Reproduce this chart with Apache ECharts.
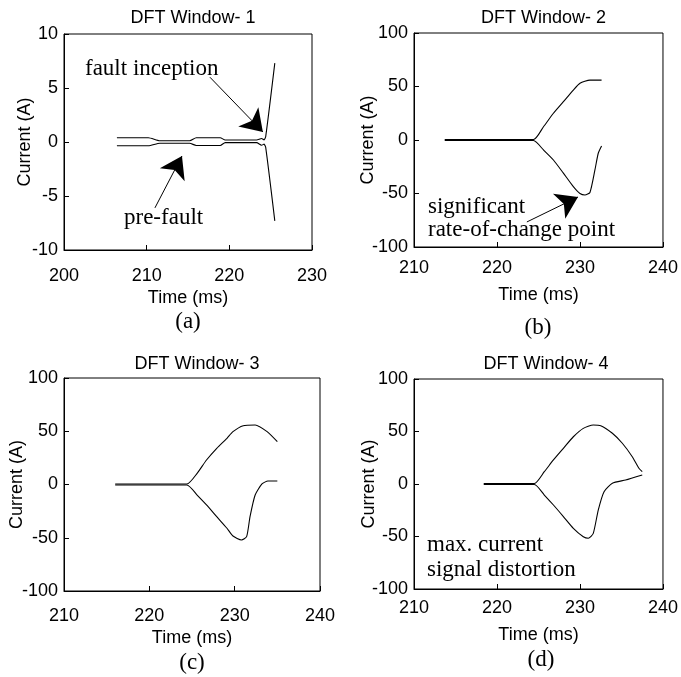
<!DOCTYPE html>
<html>
<head>
<meta charset="utf-8">
<script src="https://cdn.jsdelivr.net/npm/echarts@6/dist/echarts.min.js"></script>
<style>
  html, body { margin: 0; padding: 0; background: #fff; }
  #main { width: 681px; height: 677px; }
</style>
</head>
<body>
<div id="main"></div>
<script>
// window titles and captions
var titles = ['DFT Window- 1', 'DFT Window- 2', 'DFT Window- 3', 'DFT Window- 4'];
var captions = ['(a)', '(b)', '(c)', '(d)'];

// panel (a): pre-fault envelope then fault spike
var aUpperT = [206.4, 210.2, 211.6, 215.2, 216.0, 218.9, 219.5, 223.3, 223.9, 224.2, 224.4, 225.5];
var aUpperV = [0.4, 0.4, 0.12, 0.12, 0.4, 0.4, 0.18, 0.18, 0.32, 0.2, 0.5, 7.3];
var aLowerT = [206.4, 210.2, 211.6, 215.2, 216.0, 218.9, 219.5, 223.3, 223.9, 224.2, 224.4, 225.5];
var aLowerV = [-0.35, -0.35, -0.12, -0.12, -0.32, -0.32, -0.06, -0.06, -0.3, -0.2, -0.5, -7.3];

// panel (b)
var bUpperT = [213.7, 224.4, 225.6, 226.8, 228.0, 229.2, 230.0, 231.2, 232.6];
var bUpperV = [0.5, 0.5, 12.4, 25, 35.8, 46.7, 53, 56, 56];
var bLowerT = [213.7, 224.4, 225.6, 226.8, 228.0, 229.2, 230.0, 230.6, 231.2, 231.8, 232.2, 232.6];
var bLowerV = [-0.5, -0.5, -9.3, -18.7, -31, -43.6, -50, -51.4, -49, -28, -12.4, -5.6];

// panel (c)
var cUpperT = [216.0, 224.4, 225.6, 226.7, 227.9, 229.1, 229.8, 231.0, 232.4, 233.8, 235.0];
var cUpperV = [0.5, 0.5, 10.5, 23, 34, 43.4, 49.6, 55.2, 55.9, 49.6, 40.2];
var cLowerT = [216.0, 224.4, 225.6, 226.7, 227.9, 229.1, 229.8, 230.8, 231.4, 231.8, 232.4, 233.2, 233.9, 235.0];
var cLowerV = [-0.5, -0.5, -9.9, -19.2, -30.2, -41.1, -48.4, -52.1, -49, -30.2, -9.9, 0.5, 3.3, 3.3];

// panel (d)
var dUpperT = [218.4, 224.5, 225.7, 226.8, 228.0, 229.2, 230.4, 231.6, 232.5, 233.9, 235.1, 236.3, 237.1, 237.5];
var dUpperV = [0.5, 0.5, 11.7, 22.9, 34, 45, 53, 56.2, 55.5, 48.3, 38.8, 26, 15, 11.7];
var dLowerT = [218.4, 224.5, 225.7, 226.8, 228.0, 229.2, 230.4, 231.0, 231.6, 232.2, 232.9, 233.9, 235.5, 237.5];
var dLowerV = [-0.5, -0.5, -10.5, -20, -31, -42.2, -50.2, -51.7, -47, -24.8, -7.3, 0.7, 3.8, 8.6];

// axis ranges
var xMin = [200, 210, 210, 210];
var xMax = [230, 240, 240, 240];
var yMin = [-10, -100, -100, -100];
var yMax = [10, 100, 100, 100];
var yStep = [5, 50, 50, 50];

function zip(t, v) {
  var out = [];
  for (var i = 0; i < t.length; i++) out.push([t[i], v[i]]);
  return out;
}

var sans = 'Liberation Sans, Arial, sans-serif';
var serif = 'Liberation Serif, Times New Roman, serif';

var grids = [
  { left: 64, top: 34, width: 248, height: 216 },
  { left: 414, top: 33, width: 249, height: 214 },
  { left: 64, top: 378, width: 256, height: 213 },
  { left: 414, top: 379, width: 254, height: 210 }
];
var xLabelMargin = [17, 12, 16, 10];
var xNameGap = [39, 39, 38, 37];
var yNameGap = [30, 37, 38, 36];

var myChart = echarts.init(document.getElementById('main'));

var option = {
  animation: false,
  backgroundColor: '#fff',
  title: grids.map(function (g, i) {
    return {
      text: titles[i],
      left: g.left + g.width / 2,
      top: i < 2 ? 4 : 350,
      textAlign: 'center',
      textStyle: { fontFamily: sans, fontSize: 18, fontWeight: 'normal', color: '#000' }
    };
  }),
  grid: grids.map(function (g) {
    return {
      left: g.left, top: g.top, width: g.width, height: g.height,
      show: true, borderColor: '#000', borderWidth: 1, backgroundColor: 'transparent'
    };
  }),
  xAxis: grids.map(function (g, i) {
    return {
      type: 'value', gridIndex: i, min: xMin[i], max: xMax[i], interval: 10,
      name: 'Time (ms)', nameLocation: 'middle', nameGap: xNameGap[i], nameMoveOverlap: false,
      nameTextStyle: { fontFamily: sans, fontSize: 18, color: '#000' },
      axisLine: { show: true, onZero: false, lineStyle: { color: '#000', width: 1 } },
      axisTick: { show: true, inside: true, length: 5, lineStyle: { color: '#000' } },
      axisLabel: { fontFamily: sans, fontSize: 18, color: '#000', margin: xLabelMargin[i] },
      splitLine: { show: false }
    };
  }),
  yAxis: grids.map(function (g, i) {
    return {
      type: 'value', gridIndex: i, min: yMin[i], max: yMax[i], interval: yStep[i],
      name: 'Current (A)', nameLocation: 'middle', nameGap: yNameGap[i], nameMoveOverlap: false,
      nameTextStyle: { fontFamily: sans, fontSize: 18, color: '#000' },
      axisLine: { show: true, onZero: false, lineStyle: { color: '#000', width: 1 } },
      axisTick: { show: true, inside: true, length: 5, lineStyle: { color: '#000' } },
      axisLabel: { fontFamily: sans, fontSize: 18, color: '#000', margin: 6 },
      splitLine: { show: false }
    };
  }),
  series: [],
  graphic: []
};

function addLine(idx, data, markLine) {
  var s = {
    type: 'line', xAxisIndex: idx, yAxisIndex: idx,
    data: data, showSymbol: false, symbol: 'none', smooth: 0.2,
    lineStyle: { color: '#000', width: 1.1 }
  };
  if (markLine) s.markLine = markLine;
  option.series.push(s);
}

function arrow(from, to, size) {
  return [{ coord: from, symbol: 'none' }, { coord: to, symbol: 'arrow', symbolSize: size }];
}

var arrowStyle = { silent: true, label: { show: false }, lineStyle: { color: '#000', width: 1, type: 'solid' } };

addLine(0, zip(aUpperT, aUpperV), Object.assign({
  data: [arrow([217.65, 6.0], [224.06, 0.93], 21), arrow([211.0, -6.1], [214.27, -1.3], 21)]
}, arrowStyle));
addLine(0, zip(aLowerT, aLowerV));
addLine(1, zip(bUpperT, bUpperV), Object.assign({
  data: [arrow([223.6, -76.6], [229.76, -53.3], 21)]
}, arrowStyle));
addLine(1, zip(bLowerT, bLowerV));
addLine(2, zip(cUpperT, cUpperV));
addLine(2, zip(cLowerT, cLowerV));
addLine(3, zip(dUpperT, dUpperV));
addLine(3, zip(dLowerT, dLowerV));

function serifText(x, y, txt, align) {
  return {
    type: 'text', x: x, y: y, silent: true,
    style: { text: txt, fill: '#000', font: '23px ' + serif, textAlign: align || 'left', textVerticalAlign: 'middle' }
  };
}

var captionPos = [[188, 322], [538, 328], [192, 663], [541, 660]];
captions.forEach(function (c, i) {
  option.graphic.push(serifText(captionPos[i][0], captionPos[i][1], c, 'center'));
});

// annotation texts
option.graphic.push(serifText(85, 69, 'fault inception'));
option.graphic.push(serifText(124, 218, 'pre-fault'));
option.graphic.push(serifText(428, 207, 'significant'));
option.graphic.push(serifText(428, 230, 'rate-of-change point'));
option.graphic.push(serifText(427, 545, 'max. current'));
option.graphic.push(serifText(427, 570, 'signal distortion'));

myChart.setOption(option);
</script>
</body>
</html>
